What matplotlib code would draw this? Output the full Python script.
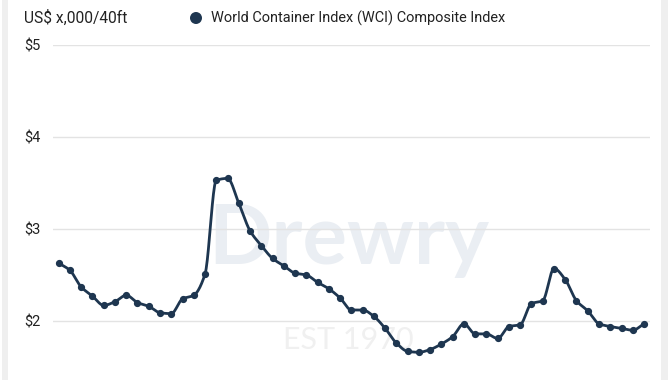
import numpy as np
import matplotlib
matplotlib.use("Agg")
import matplotlib.pyplot as plt
from matplotlib.patches import Rectangle, Ellipse

# ---- data (US$ thousand per 40ft) ----
wci = [2.63, 2.55, 2.37, 2.27, 2.17, 2.21, 2.28, 2.20, 2.16, 2.09,
       2.08, 2.24, 2.28, 2.51, 3.53, 3.55, 3.28, 2.98, 2.82, 2.68,
       2.60, 2.52, 2.50, 2.42, 2.35, 2.25, 2.12, 2.12, 2.05, 1.92,
       1.76, 1.67, 1.66, 1.69, 1.75, 1.83, 1.97, 1.86, 1.86, 1.81,
       1.94, 1.96, 2.19, 2.22, 2.57, 2.45, 2.22, 2.11, 1.97, 1.94,
       1.92, 1.90, 1.97]
ytick_vals = [2, 3, 4, 5]
ytick_labels = ["$2", "$3", "$4", "$5"]
unit_label = "US$ x,000/40ft"
series_name = "World Container Index (WCI) Composite Index"

LINE = "#1e3650"
FONT = ["Roboto", "DejaVu Sans"]
plt.rcParams["font.family"] = FONT


def monotone_curve(x, y, n=20):
    x = np.asarray(x, float)
    y = np.asarray(y, float)
    h = np.diff(x)
    d = np.diff(y) / h
    m = np.zeros_like(y)
    m[0], m[-1] = d[0], d[-1]
    for i in range(1, len(y) - 1):
        if d[i - 1] * d[i] <= 0:
            m[i] = 0.0
        else:
            w1 = 2 * h[i] + h[i - 1]
            w2 = h[i] + 2 * h[i - 1]
            m[i] = (w1 + w2) / (w1 / d[i - 1] + w2 / d[i])
    xs, ys = [], []
    for i in range(len(x) - 1):
        t = np.linspace(0, 1, n, endpoint=False)
        h00 = 2 * t**3 - 3 * t**2 + 1
        h10 = t**3 - 2 * t**2 + t
        h01 = -2 * t**3 + 3 * t**2
        h11 = t**3 - t**2
        xs.append(x[i] + t * h[i])
        ys.append(h00 * y[i] + h10 * h[i] * m[i] + h01 * y[i + 1] + h11 * h[i] * m[i + 1])
    xs.append([x[-1]])
    ys.append([y[-1]])
    return np.concatenate(xs), np.concatenate(ys)


W, H = 670, 380
fig = plt.figure(figsize=(W / 100, H / 100), dpi=100)
fig.patch.set_facecolor("white")

# card side shading
fig.patches.append(Rectangle((2 / W, 0), 6 / W, 1, transform=fig.transFigure,
                             facecolor="#efefef", edgecolor="none", zorder=0))
fig.patches.append(Rectangle((661 / W, 0), 7 / W, 1, transform=fig.transFigure,
                             facecolor="#efefef", edgecolor="none", zorder=0))

left, right = 53, 650
top_px, bot_px = 45, 380
ax = fig.add_axes([left / W, 1 - bot_px / H, (right - left) / W, (bot_px - top_px) / H])
ax.set_facecolor("none")

x = np.arange(len(wci))
ax.set_xlim(-0.506, 52.53)
ax.set_ylim(5 - (bot_px - top_px) / 92.0, 5)

# watermark
ax.text(0.495, 0.415, "Drewry", transform=ax.transAxes, fontsize=60, fontweight="bold",
        color="#eaeef3", ha="center", va="center", family=["Lato", "DejaVu Sans"], zorder=0)
ax.text(0.495, 0.12, "EST 1970", transform=ax.transAxes, fontsize=22,
        color="#f0f0f0", ha="center", va="center", family=["Lato", "DejaVu Sans"], zorder=0)

for v in ytick_vals:
    ax.axhline(v, color="#e3e3e3", lw=1.0, zorder=1)

cx, cy = monotone_curve(x, wci)
ax.plot(cx, cy, color=LINE, lw=2.0, solid_capstyle="round", zorder=3)
ax.plot(x, wci, "o", color=LINE, ms=4.2, zorder=4)

for s in ax.spines.values():
    s.set_visible(False)
ax.set_xticks([])
ax.set_yticks(ytick_vals)
ax.set_yticklabels(ytick_labels)
ax.tick_params(axis="y", length=0, pad=0, labelsize=10.5, labelcolor="#222222")
for lab in ax.get_yticklabels():
    lab.set_horizontalalignment("left")
    lab.set_x(-(left - 24) / (right - left))

# header
fig.text(24 / W, 1 - 18 / H, unit_label, fontsize=11.2, color="#222222",
         ha="left", va="center")
fig.patches.append(Ellipse((196 / W, 1 - 18 / H), 12 / W, 12 / H,
                           transform=fig.transFigure,
                           facecolor=LINE, edgecolor="none"))
fig.text(211 / W, 1 - 18 / H, series_name, fontsize=10.45, color="#222222",
         ha="left", va="center")

fig.savefig("out.png", dpi=100)
